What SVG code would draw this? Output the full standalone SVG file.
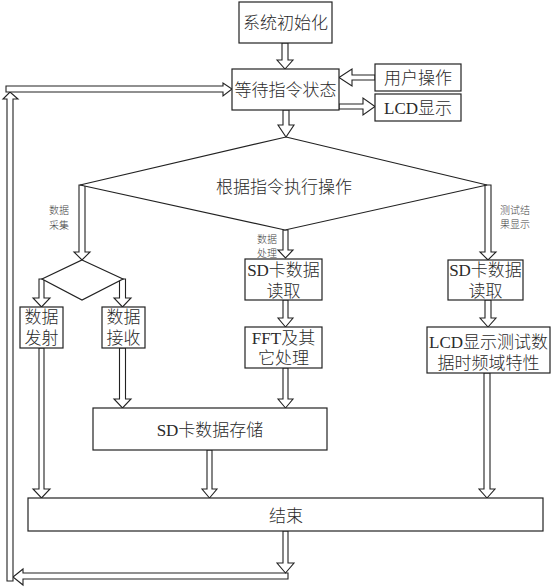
<svg xmlns="http://www.w3.org/2000/svg" width="554" height="588" viewBox="0 0 554 588">
<style>
.box{fill:#fff;stroke:#222;stroke-width:1.2}
.arr{fill:#fff;stroke:#222;stroke-width:1.1;stroke-linejoin:miter}
.t{font-family:"Liberation Serif","Noto Sans CJK SC",serif;font-size:17px;font-weight:300;fill:#2a2a2a;text-anchor:middle;dominant-baseline:central}
.s{font-family:"Liberation Serif","Noto Sans CJK SC",serif;font-size:10px;font-weight:300;fill:#444;text-anchor:middle;dominant-baseline:central}
</style>
<rect width="554" height="588" fill="#fff"/>
<g id="connectors">
<!-- feedback loop -->
<polygon class="arr" points="288,573 23,573 23,569 13,577 23,585 23,579 288,579"/>
<polygon class="arr" points="7,581 7,99 3,99 10,92 18,99 13,99 13,581"/>
<polygon class="arr" points="6,86 223,86 223,83 232,89 223,96 223,92 6,92"/>
<!-- top -->
<polygon class="arr" points="282,43 282,60 277,60 285,69 293,60 288,60 288,43"/>
<polygon class="arr" points="375,75 352,75 352,69 339,77.5 352,86 352,80 375,80"/>
<polygon class="arr" points="339,104 363,104 363,98 375,106.5 363,115 363,109 339,109"/>
<polygon class="arr" points="283,110 283,125 278,125 286,137 294,125 289,125 289,110"/>
<!-- branches -->
<polygon class="arr" points="79,185 79,252 74,252 82,260 90,252 85,252 85,185"/>
<polygon class="arr" points="39,279 39,298 33,298 41.5,307 50,298 44,298 44,279"/>
<polygon class="arr" points="119.5,279 119.5,298 114,298 122.5,307 131,298 125.5,298 125.5,279"/>
<polygon class="arr" points="283,230 283,250 278,250 285.5,258 293,250 288,250 288,230"/>
<polygon class="arr" points="485,185 485,252 480,252 488,260 496,252 491,252 491,185"/>
<polygon class="arr" points="283,300 283,318 278,318 285.5,327 293,318 288,318 288,300"/>
<polygon class="arr" points="485,300 485,318 480,318 488,327 496,318 491,318 491,300"/>
<!-- lower -->
<polygon class="arr" points="39,348 39,489 33,489 41.5,498 50,489 44,489 44,348"/>
<polygon class="arr" points="119.5,348 119.5,399 114,399 122.5,408 131,399 125.5,399 125.5,348"/>
<polygon class="arr" points="283,368 283,399 278,399 285.5,408 293,399 288,399 288,368"/>
<polygon class="arr" points="207,450 207,489 202,489 209.5,498 217,489 212,489 212,450"/>
<polygon class="arr" points="484,373 484,489 479,489 487,498 495,489 490,489 490,373"/>
<polygon class="arr" points="283,531 283,563 277,563 285.5,573 294,563 288,563 288,531"/>
</g>
<g id="init"><rect class="box" x="239" y="2" width="93" height="41"/><text class="t" x="285.5" y="23">系统初始化</text></g>
<g id="wait"><rect class="box" x="232" y="69" width="107" height="41"/><text class="t" x="285.5" y="90">等待指令状态</text></g>
<g id="user"><rect class="box" x="375" y="64" width="86" height="27"/><text class="t" x="418" y="78">用户操作</text></g>
<g id="lcd"><rect class="box" x="375" y="94" width="86" height="27"/><text class="t" x="418" y="108">LCD显示</text></g>
<g id="decide"><polygon class="box" points="286,137 487,185 285,230 80,185"/><text class="t" x="284" y="187">根据指令执行操作</text></g>
<g id="lbl-acq"><text class="s" x="59" y="210">数据</text><text class="s" x="59" y="225">采集</text></g>
<g id="lbl-proc"><text class="s" x="267" y="239">数据</text><text class="s" x="267" y="253">处理</text></g>
<g id="lbl-show"><text class="s" x="515" y="210">测试结</text><text class="s" x="515" y="224">果显示</text></g>
<g id="split"><polygon class="box" points="82,260 123,279 82,300 42,279"/></g>
<g id="send"><rect class="box" x="20" y="307" width="43" height="41"/><text class="t" x="41.5" y="317">数据</text><text class="t" x="41.5" y="338">发射</text></g>
<g id="recv"><rect class="box" x="102" y="307" width="43" height="41"/><text class="t" x="123.5" y="317">数据</text><text class="t" x="123.5" y="338">接收</text></g>
<g id="sdread1"><rect class="box" x="245" y="259" width="77" height="41"/><text class="t" x="283.5" y="270">SD卡数据</text><text class="t" x="283.5" y="291">读取</text></g>
<g id="fft"><rect class="box" x="245" y="327" width="77" height="41"/><text class="t" x="283.5" y="338">FFT及其</text><text class="t" x="283.5" y="358">它处理</text></g>
<g id="sdread2"><rect class="box" x="448" y="260" width="75" height="40"/><text class="t" x="485.5" y="270">SD卡数据</text><text class="t" x="485.5" y="291">读取</text></g>
<g id="lcdshow"><rect class="box" x="427" y="327" width="123" height="46"/><text class="t" x="488.5" y="342">LCD显示测试数</text><text class="t" x="488.5" y="363">据时频域特性</text></g>
<g id="sdstore"><rect class="box" x="93" y="408" width="234" height="42"/><text class="t" x="210" y="430">SD卡数据存储</text></g>
<g id="end"><rect class="box" x="28" y="498" width="515" height="33"/><text class="t" x="286" y="516">结束</text></g>
</svg>
